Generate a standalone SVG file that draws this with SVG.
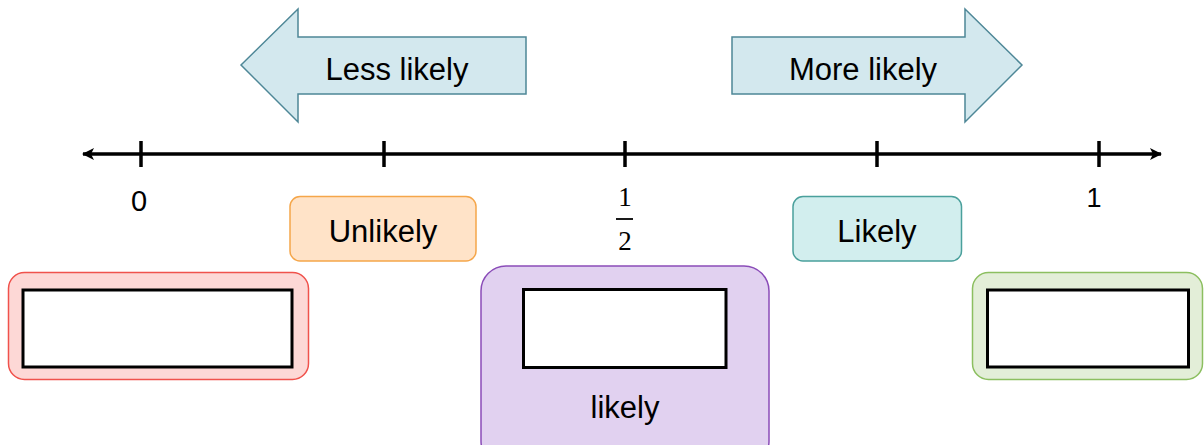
<svg xmlns="http://www.w3.org/2000/svg" width="1204" height="445" viewBox="0 0 1204 445">
<style>
.sans{font-family:"Liberation Sans",Arial,sans-serif}
.serif{font-family:"Liberation Serif","Times New Roman",serif}
.inner{fill:#fff;stroke:#000;stroke-width:3}
.tick{stroke:#000;stroke-width:3.5}
.arrowshape{fill:#d3e8ee;stroke:#4e8797;stroke-width:1.5}
</style>
<defs>
<marker id="ah" viewBox="0 0 12 12" refX="11" refY="6" markerWidth="12" markerHeight="12" markerUnits="userSpaceOnUse" orient="auto-start-reverse">
<path d="M0,0 L12,6 L0,12 L3,6 Z" fill="#000"/>
</marker>
</defs>
<g id="less-likely">
<path class="arrowshape" d="M241,65 L298,9 L298,37 L526,37 L526,94 L298,94 L298,122 Z"/>
<text class="sans" x="397" y="80" font-size="31" text-anchor="middle">Less likely</text>
</g>
<g id="more-likely">
<path class="arrowshape" d="M1022,65 L965,9 L965,37 L732,37 L732,94 L965,94 L965,122 Z"/>
<text class="sans" x="863" y="80" font-size="31" text-anchor="middle">More likely</text>
</g>
<g id="connectors">
<line x1="83" y1="154" x2="1161" y2="154" stroke="#000" stroke-width="3.5" marker-start="url(#ah)" marker-end="url(#ah)"/>
<line class="tick" x1="141" y1="141" x2="141" y2="167"/>
<line class="tick" x1="384" y1="141" x2="384" y2="167"/>
<line class="tick" x1="625" y1="141" x2="625" y2="167"/>
<line class="tick" x1="877" y1="141" x2="877" y2="167"/>
<line class="tick" x1="1099" y1="141" x2="1099" y2="167"/>
</g>
<g id="label-0"><text class="sans" x="139" y="211" font-size="29" text-anchor="middle">0</text></g>
<g id="label-half">
<text class="serif" x="625" y="206" font-size="27" text-anchor="middle">1</text>
<line x1="616" y1="219" x2="633" y2="219" stroke="#000" stroke-width="1.8"/>
<text class="serif" x="625" y="250" font-size="27" text-anchor="middle">2</text>
</g>
<g id="label-1"><text class="sans" x="1094" y="207" font-size="27" text-anchor="middle">1</text></g>
<g id="unlikely">
<rect x="290" y="196.5" width="186" height="64.5" rx="10" fill="#ffe3c8" stroke="#f5a64a" stroke-width="1.5"/>
<text class="sans" x="383" y="242" font-size="31" text-anchor="middle">Unlikely</text>
</g>
<g id="likely">
<rect x="793" y="196.5" width="168.5" height="64.5" rx="10" fill="#d2eeee" stroke="#4aa09c" stroke-width="1.5"/>
<text class="sans" x="877" y="242" font-size="31" text-anchor="middle">Likely</text>
</g>
<g id="impossible">
<rect x="8.5" y="272.5" width="300" height="107" rx="16" fill="#fdd8d6" stroke="#f0524c" stroke-width="1.5"/>
<rect class="inner" x="23" y="290" width="269" height="77"/>
</g>
<g id="even-chance">
<rect x="481" y="266" width="288" height="200" rx="25" fill="#e1d1f0" stroke="#8a4cb8" stroke-width="1.5"/>
<rect class="inner" x="523.5" y="289.5" width="202.5" height="78"/>
<text class="sans" x="625" y="418" font-size="31" text-anchor="middle">likely</text>
</g>
<g id="certain">
<rect x="972.5" y="272.5" width="230" height="107" rx="16" fill="#e3eed8" stroke="#8cbf60" stroke-width="1.5"/>
<rect class="inner" x="987.5" y="290" width="201" height="77"/>
</g>
</svg>
